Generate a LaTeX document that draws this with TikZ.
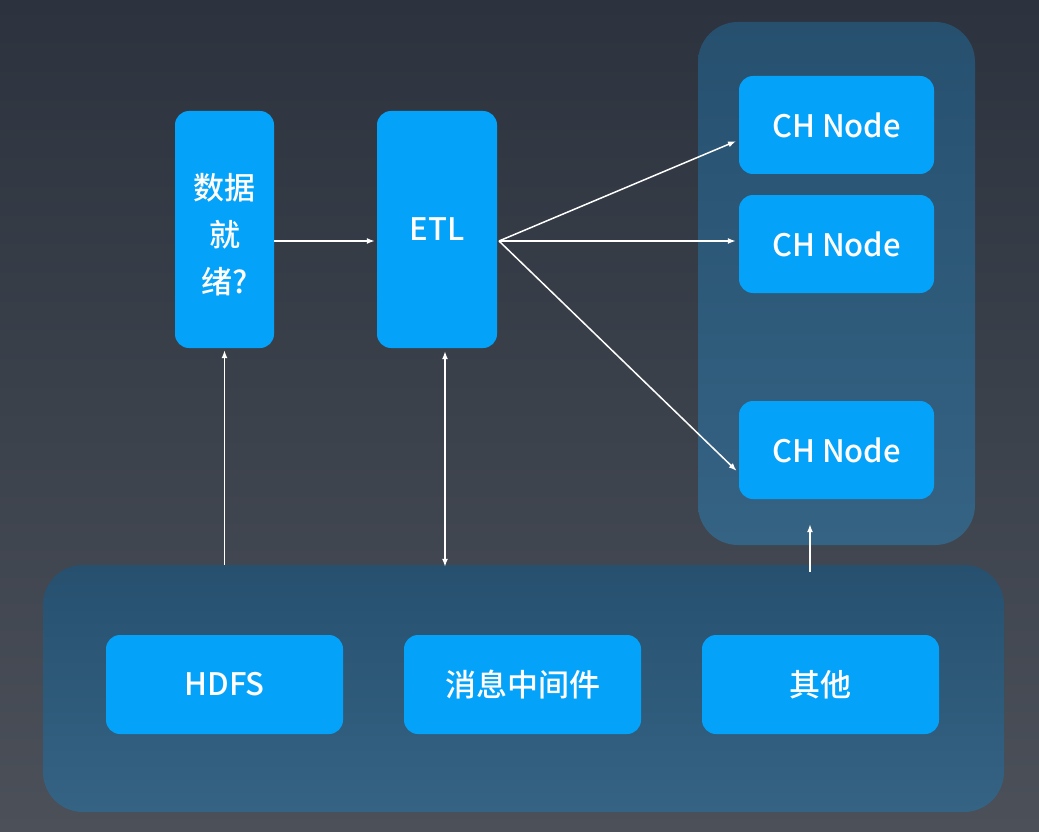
\documentclass[tikz,border=0pt]{standalone}
\usepackage{fontspec}
\setmainfont{Noto Sans CJK SC}[BoldFont={Noto Sans CJK SC Medium}]
\usepackage{xcolor}
\usetikzlibrary{arrows.meta,positioning}
\definecolor{bgtop}{HTML}{2C333E}
\definecolor{bgbot}{HTML}{4B5059}
\definecolor{grouptop}{HTML}{27506F}
\definecolor{groupbot}{HTML}{356384}
\definecolor{boxblue}{HTML}{05A2FA}
\tikzstyle{boxtext} = [
    text=white,
    font=\fontsize{31}{47}\selectfont\bfseries,
    align=center
    ]
\tikzstyle{bluebox} = [
    boxtext,
    fill=boxblue,
    rounded corners=14pt,
    inner sep=0pt
    ]
\tikzstyle{groupbox} = [
    shade,
    top color=grouptop,
    bottom color=groupbot,
    rounded corners=40pt,
    inner sep=0pt
    ]
\tikzstyle{arr} = [
    draw=white,
    line width=1.5pt,
    -{Latex[length=8pt,width=6pt]}
    ]

\begin{document}
\begin{tikzpicture}[x=1pt,y=-1pt]
\shade[top color=bgtop, bottom color=bgbot] (0,0) rectangle (1039,832);
\useasboundingbox (0,0) rectangle (1039,832);

% groups
\node[groupbox, minimum width=277pt, minimum height=523pt] (chgroup) at (836.5,283.5) {};
\node[groupbox, minimum width=961pt, minimum height=247pt] (source) at (523.5,688.5) {};

% boxes
\node[bluebox, minimum width=99pt, minimum height=237pt] (ready) at (224.5,229.5) {};
\node[boxtext] (readytext) at ([yshift=-5pt]ready.center) {数据\\就\\绪?};
\node[bluebox, minimum width=120pt, minimum height=237pt] (etl) at (437,229.5) {ETL};
\node[bluebox, minimum width=195pt, minimum height=98pt] (ch1) at (836.5,125) {CH Node};
\node[bluebox, minimum width=195pt, minimum height=98pt] (ch2) at (836.5,244) {CH Node};
\node[bluebox, minimum width=195pt, minimum height=98pt] (ch3) at (836.5,450) {CH Node};
\node[bluebox, minimum width=237pt, minimum height=99pt] (hdfs) at (224.5,684.5) {HDFS};
\node[bluebox, minimum width=237pt, minimum height=99pt] (mq) at (522.5,684.5) {消息中间件};
\node[bluebox, minimum width=237pt, minimum height=99pt] (other) at (820.5,684.5) {其他};

% links
\coordinate (etlout) at (499,241);
\coordinate (mqlink) at ([xshift=8pt,yshift=-3pt]etl.south);
\coordinate (otherup) at ([xshift=-26.5pt]chgroup.south);
\draw[arr, shorten >=2pt] (ready.east |- etlout) -- (etl.west |- etlout);
\draw[arr, shorten >=3pt] (etlout) -- ([yshift=-15pt]ch1.west);
\draw[arr, shorten >=3pt] (etlout) -- (ch2.west |- etlout);
\draw[arr, shorten >=3pt] (etlout) -- ([yshift=-23pt]ch3.west);
\draw[arr, shorten >=2pt] (source.north -| ready.south) -- (ready.south);
\draw[arr, {Latex[length=8pt,width=6pt]}-{Latex[length=8pt,width=6pt]}] (mqlink) -- ([yshift=-2pt]mqlink |- source.north);
\draw[arr] ([yshift=-7pt]otherup |- source.north) -- ([yshift=21pt]otherup);
\end{tikzpicture}
\end{document}
